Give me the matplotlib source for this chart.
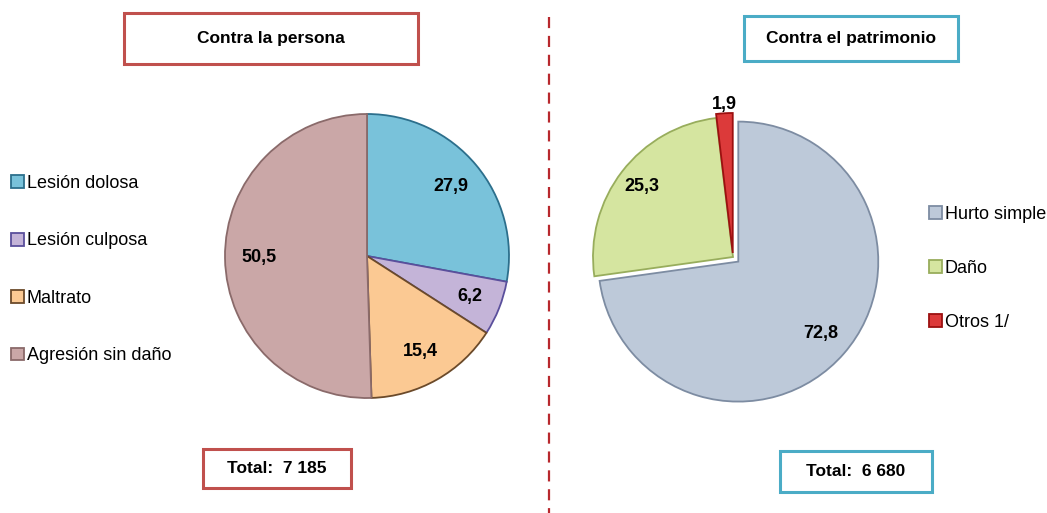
import numpy as np
import matplotlib.pyplot as plt
from matplotlib.patches import Rectangle

plt.rcParams['font.family'] = ['Liberation Sans', 'DejaVu Sans']

W, H = 1047, 513  # figure in pixels, axes use pixel units (y up)

# ---------------- data
persona_labels = ['Lesión dolosa', 'Lesión culposa', 'Maltrato', 'Agresión sin daño']
persona_values = [27.9, 6.2, 15.4, 50.5]
persona_total = '7 185'

patrimonio_labels = ['Hurto simple', 'Daño', 'Otros 1/']
patrimonio_values = [72.8, 25.3, 1.9]
patrimonio_total = '6 680'

# ---------------- styles
persona_colors = ['#79c2da', '#c4b4d8', '#fbc993', '#caa7a7']
persona_edges = ['#2c6f8c', '#5a4f9c', '#6b4a2a', '#8a6a6a']
patrimonio_colors = ['#bdc9d9', '#d5e5a0', '#dc3a3a']
patrimonio_edges = ['#7d8ca2', '#98ad5c', '#9c1010']
red_box = '#c0504d'
blue_box = '#4bacc6'


def yy(y):
    return H - y


def fmt(v):
    return f'{v:.1f}'.replace('.', ',')


def put_labels(ax, wedges, values, radius, dists):
    for w, v, d in zip(wedges, values, dists):
        t = np.radians((w.theta1 + w.theta2) / 2)
        cx, cy = w.center
        ax.text(cx + d * radius * np.cos(t), cy + d * radius * np.sin(t), fmt(v),
                ha='center', va='center', fontsize=13, fontweight='bold')


def box(ax, x0, y0, x1, y1, color, text):
    ax.add_patch(Rectangle((x0, yy(y1)), x1 - x0, y1 - y0, fill=False,
                           edgecolor=color, linewidth=2.2))
    ax.text((x0 + x1) / 2, yy((y0 + y1) / 2), text, ha='center', va='center',
            fontsize=12.5, fontweight='bold')


fig = plt.figure(figsize=(W / 100, H / 100), dpi=100)
ax = fig.add_axes([0, 0, 1, 1])

# left pie
r1 = 142
w1, _ = ax.pie(persona_values, colors=persona_colors, startangle=90, counterclock=False,
               center=(367, yy(256)), radius=r1,
               wedgeprops=dict(linewidth=1.3))
for w, e in zip(w1, persona_edges):
    w.set_edgecolor(e)
put_labels(ax, w1, persona_values, r1, [0.77, 0.78, 0.77, 0.76])

# right pie
r2 = 140
w2, _ = ax.pie(patrimonio_values, colors=patrimonio_colors, startangle=90, counterclock=False,
               center=(733, yy(257)), radius=r2, explode=[7, 0, 4],
               wedgeprops=dict(linewidth=1.3))
for w, e in zip(w2, patrimonio_edges):
    w.set_edgecolor(e)
put_labels(ax, w2, patrimonio_values, r2, [0.78, 0.82, 1.06])

ax.set_xlim(0, W)
ax.set_ylim(0, H)
ax.set_aspect('auto')
ax.axis('off')

# legends
leg_kw = dict(loc='upper left', bbox_transform=ax.transData, frameon=False, fontsize=13,
              handlelength=0.72, handleheight=0.72, handletextpad=0.15,
              borderpad=0, borderaxespad=0)
leg1 = ax.legend(w1, persona_labels, bbox_to_anchor=(11, yy(175)), labelspacing=2.24, **leg_kw)
ax.add_artist(leg1)
ax.legend(w2, patrimonio_labels, bbox_to_anchor=(929, yy(206)), labelspacing=2.05, **leg_kw)

# title and total boxes
box(ax, 124, 13, 418, 64, red_box, 'Contra la persona')
box(ax, 203, 449, 351, 488, red_box, 'Total:  ' + persona_total)
box(ax, 744, 16, 958, 61, blue_box, 'Contra el patrimonio')
box(ax, 780, 451, 932, 492, blue_box, 'Total:  ' + patrimonio_total)

# divider
ax.plot([549, 549], [yy(17), 0], color='#b8282d', linewidth=1.6, linestyle=(0, (5, 3.5)))

fig.savefig('out.png', dpi=100)
